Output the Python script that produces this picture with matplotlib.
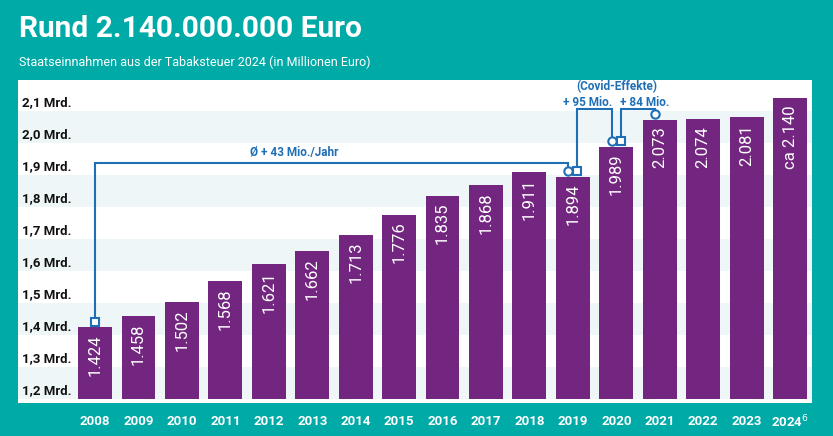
import matplotlib
matplotlib.use("Agg")
import matplotlib.pyplot as plt

plt.rcParams['font.family'] = ['Roboto', 'DejaVu Sans']

# daten (Mio. Euro)
jahre = ["2008", "2009", "2010", "2011", "2012", "2013", "2014", "2015", "2016",
         "2017", "2018", "2019", "2020", "2021", "2022", "2023", "2024$^{6}$"]
einnahmen = [1424, 1458, 1502, 1568, 1621, 1662, 1713, 1776, 1835,
             1868, 1911, 1894, 1989, 2073, 2074, 2081, 2140]
wert_texte = ["1.424", "1.458", "1.502", "1.568", "1.621", "1.662", "1.713", "1.776", "1.835",
              "1.868", "1.911", "1.894", "1.989", "2.073", "2.074", "2.081", "ca 2.140"]
y_ticks = [1.2, 1.3, 1.4, 1.5, 1.6, 1.7, 1.8, 1.9, 2.0, 2.1]
y_labels = ["1,2 Mrd.", "1,3 Mrd.", "1,4 Mrd.", "1,5 Mrd.", "1,6 Mrd.",
            "1,7 Mrd.", "1,8 Mrd.", "1,9 Mrd.", "2,0 Mrd.", "2,1 Mrd."]

TEAL = '#00aaa6'
LILA = '#72267f'
BLAU = '#1f6fb6'
BAND = '#eef6f8'

werte = [e / 1000 for e in einnahmen]
x = list(range(len(jahre)))

fig = plt.figure(figsize=(8.33, 4.36), dpi=100, facecolor=TEAL)
ax = fig.add_axes([18 / 833, 33 / 436, 794 / 833, 323 / 436])
ax.set_facecolor('white')

# baender
for i, v in enumerate(y_ticks):
    if i % 2 == 0:
        ax.axhspan(v, v + 0.1, color=BAND, zorder=0, lw=0)

ax.bar(x, [w - 1.2 for w in werte], bottom=1.2, width=0.78, color=LILA, zorder=2)

for xi, w, t in zip(x, werte, wert_texte):
    ax.annotate(t, xy=(xi, w), xytext=(0, -5), textcoords='offset points',
                rotation=90, ha='center', va='top', color='white', fontsize=12, zorder=3)

for v, lab in zip(y_ticks, y_labels):
    ax.annotate(lab, xy=(0, v), xycoords=ax.get_yaxis_transform(), xytext=(3, 6),
                textcoords='offset points', ha='left', va='center',
                fontsize=9.5, fontweight='bold', color='#111111')

ax.set_xlim(-1.773, 16.505)
ax.set_ylim(1.1875, 2.197)
ax.set_xticks([])
ax.set_yticks([])
for s in ax.spines.values():
    s.set_visible(False)

# jahre unter der grafik
for xi, j in zip(x, jahre):
    ax.annotate(j, xy=(xi, 0), xycoords=('data', 'axes fraction'), xytext=(0, -13.5),
                textcoords='offset points', ha='center', va='center',
                color='white', fontsize=9.5, fontweight='bold')

# klammern
dy = 0.018
def klammer(i0, off0, m0, i1, off1, m1, hoehe):
    x0, y0 = i0 + off0, werte[i0] + dy
    x1, y1 = i1 + off1, werte[i1] + dy
    ax.plot([x0, x0, x1, x1], [y0, hoehe, hoehe, y1], color=BLAU, lw=1.5, zorder=4,
            solid_joinstyle='miter')
    ax.plot([x0], [y0], marker=m0, ms=5.5, mfc='white', mec=BLAU, mew=1.5, zorder=5)
    ax.plot([x1], [y1], marker=m1, ms=6, mfc='white', mec=BLAU, mew=1.5, zorder=5)

klammer(0, 0.0, 's', 11, -0.11, 'o', 1.9375)
klammer(11, 0.1, 's', 12, -0.11, 'o', 2.106)
klammer(12, 0.1, 's', 13, -0.11, 'o', 2.106)

ax.text(4.58, 1.969, "Ø + 43 Mio./Jahr", ha='center', va='center', color=BLAU,
        fontsize=8.5, fontweight='bold')
ax.text(11.33, 2.128, "+ 95 Mio.", ha='center', va='center', color=BLAU,
        fontsize=8.5, fontweight='bold')
ax.text(12.66, 2.128, "+ 84 Mio.", ha='center', va='center', color=BLAU,
        fontsize=8.5, fontweight='bold')
ax.text(12.0, 2.178, "(Covid-Effekte)", ha='center', va='center', color=BLAU,
        fontsize=8.5, fontweight='bold')

fig.text(19 / 833, 1 - 37 / 436, "Rund 2.140.000.000 Euro", color='white',
         fontsize=21.5, fontweight='bold', ha='left', va='baseline')
fig.text(19 / 833, 1 - 66 / 436, "Staatseinnahmen aus der Tabaksteuer 2024 (in Millionen Euro)",
         color='white', fontsize=9, ha='left', va='baseline')

fig.savefig('out.png', dpi=100, facecolor=TEAL)
